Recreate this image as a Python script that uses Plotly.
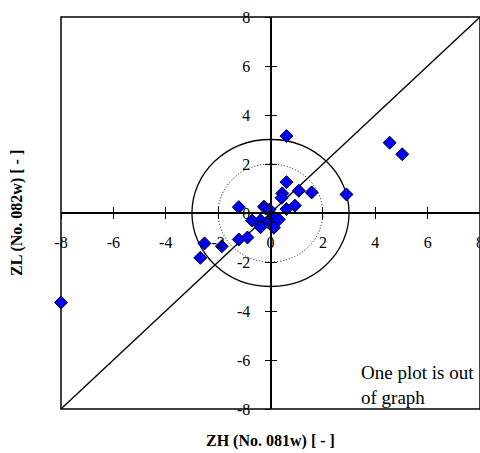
import plotly.graph_objects as go

# Paired impedance values: ZH from sample No. 081w, ZL from sample No. 082w
zh = [-8.0, -2.68, -2.52, -1.86, -1.21, -0.88, -1.21, -0.70, -0.38, -0.37,
      -0.38, -0.25, -0.18, -0.04, -0.04, 0.13, 0.32, 0.13, 0.45, 0.42,
      0.61, 0.61, 1.08, 1.57, 0.93, 0.61, 2.90, 4.55, 5.03]
zl = [-3.65, -1.83, -1.24, -1.36, -1.08, -1.00, 0.24, -0.31, -0.30, -0.50,
      -0.58, 0.26, 0.18, 0.14, -0.35, -0.17, -0.26, -0.60, 0.80, 0.62,
      1.26, 3.14, 0.91, 0.84, 0.30, 0.16, 0.76, 2.87, 2.40]

tick_vals = [-8, -6, -4, -2, 0, 2, 4, 6, 8]
tick_text = ["-8", "-6", "-4", "-2", "0", "2", "4", "6", "8"]
axis_range = [-8, 8]
outer_radius = 3
inner_radius = 2

serif = "Liberation Serif"

fig = go.Figure()

fig.add_trace(go.Scatter(
    x=zh, y=zl, mode="markers", cliponaxis=False,
    marker=dict(symbol="diamond", size=10, color="#0000FF",
                line=dict(color="black", width=1)),
    showlegend=False, hoverinfo="skip",
))
# empty trace that carries the second pair of axes (upper/right tick halves)
fig.add_trace(go.Scatter(x=[None], y=[None], xaxis="x2", yaxis="y2",
                         mode="markers", showlegend=False, hoverinfo="skip"))

common = dict(range=axis_range, tickvals=tick_vals, showgrid=False,
              zeroline=False, showline=True, linecolor="black", linewidth=2,
              ticklen=5, tickwidth=1.3, tickcolor="black", automargin=False,
              anchor="free", position=0.5, fixedrange=True)

fig.update_layout(
    width=480, height=453,
    margin=dict(l=61, r=0, t=17, b=44, autoexpand=False),
    paper_bgcolor="white", plot_bgcolor="white",
    font=dict(family=serif, color="black", size=16),
    xaxis=dict(**common, ticks="outside", ticktext=tick_text,
               tickfont=dict(family=serif, size=16), ticklabelstandoff=10,
               ticklabeloverflow="allow"),
    yaxis=dict(**common, ticks="outside", ticktext=tick_text,
               tickfont=dict(family=serif, size=16), ticklabelstandoff=11,
               ticklabeloverflow="allow"),
    xaxis2=dict(**common, overlaying="x", ticks="inside", showticklabels=False),
    yaxis2=dict(**common, overlaying="y", ticks="inside", showticklabels=False),
    shapes=[
        dict(type="rect", xref="paper", yref="paper", x0=0, y0=0, x1=1, y1=1,
             line=dict(color="black", width=1.5), layer="below"),
        dict(type="line", xref="x", yref="y", x0=axis_range[0], y0=axis_range[0],
             x1=axis_range[1], y1=axis_range[1],
             line=dict(color="black", width=1.3), layer="below"),
        dict(type="circle", xref="x", yref="y",
             x0=-outer_radius, y0=-outer_radius, x1=outer_radius, y1=outer_radius,
             line=dict(color="black", width=1.3), layer="below"),
        dict(type="circle", xref="x", yref="y",
             x0=-inner_radius, y0=-inner_radius, x1=inner_radius, y1=inner_radius,
             line=dict(color="black", width=1, dash="1px,2px"), layer="below"),
    ],
    annotations=[
        dict(text="<b>ZH (No. 081w) [ - ]</b>", xref="paper", yref="paper",
             x=0.5, y=0, yshift=-32, yanchor="middle", showarrow=False,
             font=dict(family=serif, size=16)),
        dict(text="<b>ZL (No. 082w) [ - ]</b>", xref="paper", yref="paper",
             x=0, y=0.5, xshift=-44, xanchor="center", textangle=-90,
             showarrow=False, font=dict(family=serif, size=16)),
        dict(text="One plot is out<br>of graph", xref="paper", yref="paper",
             x=0.712, y=0.062, xanchor="left", yanchor="middle", align="left",
             showarrow=False, font=dict(family=serif, size=19)),
    ],
)

fig.write_html("out.html")
